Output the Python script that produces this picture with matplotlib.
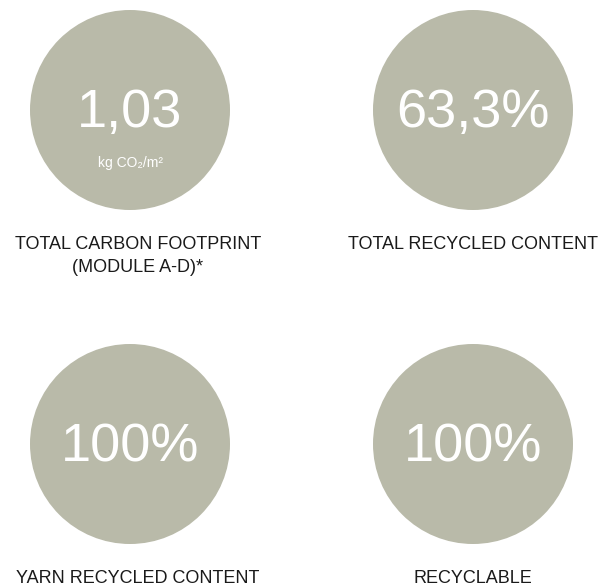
import matplotlib.pyplot as plt
from matplotlib.patches import Circle

# key figures
values = ["1,03", "63,3%", "100%", "100%"]
units = ["kg CO\u2082/m\u00b2", "", "", ""]
labels = ["TOTAL CARBON FOOTPRINT\n(MODULE A-D)*", "TOTAL RECYCLED CONTENT",
          "YARN RECYCLED CONTENT", "RECYCLABLE"]

circle_color = "#b9baa9"
cols = [130, 473]
label_cols = [138, 473]
rows = [110, 444]
radius = 100

fig = plt.figure(figsize=(6.04, 5.87), dpi=100)
ax = fig.add_axes([0, 0, 1, 1])
ax.set_xlim(0, 604)
ax.set_ylim(587, 0)
ax.set_aspect("equal")
ax.axis("off")

fam = ["Liberation Sans", "DejaVu Sans"]
for i, (val, unit, lab) in enumerate(zip(values, units, labels)):
    cx = cols[i % 2]
    cy = rows[i // 2]
    ax.add_patch(Circle((cx, cy), radius, color=circle_color, lw=0))
    ax.text(cx, cy + 3, val, color="white", fontsize=39, ha="center", va="center",
            family=fam)
    if unit:
        ax.text(cx, cy + 53, unit, color="white", fontsize=10, ha="center",
                va="center", family=fam)
    ax.text(label_cols[i % 2], cy + 126, lab, color="#1a1a1a", fontsize=13,
            ha="center", va="top", linespacing=1.45, family=fam)

fig.savefig("out.png", dpi=100, facecolor="white")
